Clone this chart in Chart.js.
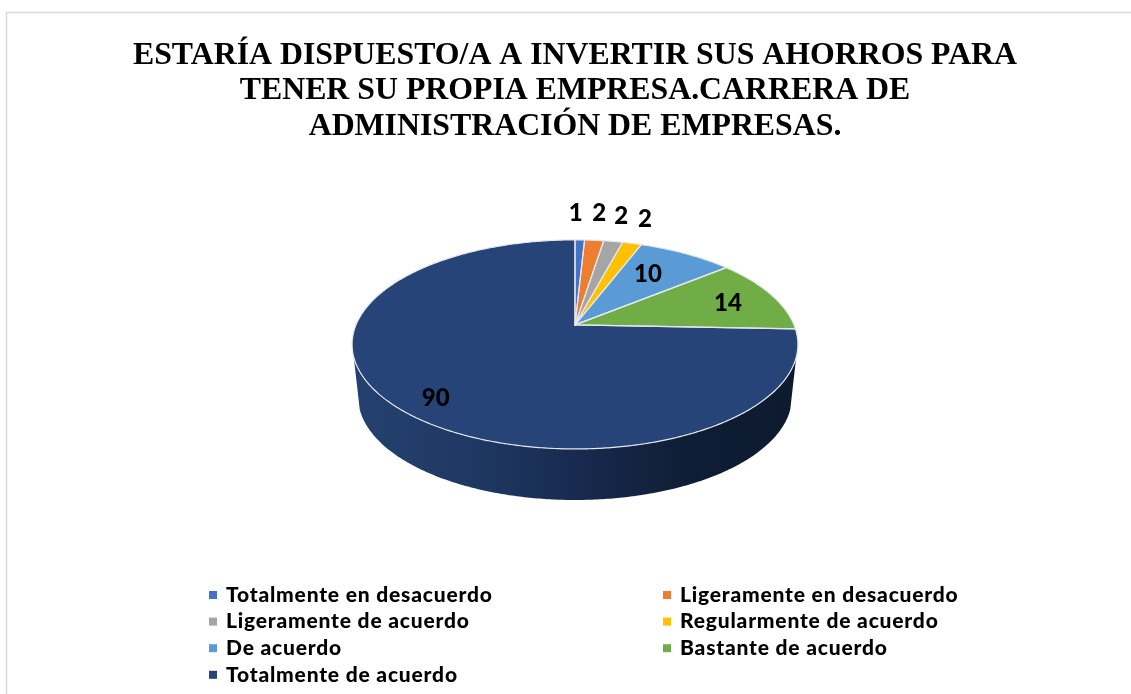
<!DOCTYPE html>
<html>
<head>
<meta charset="utf-8">
<style>
html,body{margin:0;padding:0;background:#fff;overflow:hidden;width:1131px;height:694px}
canvas{display:block}
</style>
<script src="https://cdn.jsdelivr.net/npm/chart.js@4"></script>
</head>
<body>
<canvas id="c" width="1150" height="694"></canvas>
<script>
const titleLines = [
  'ESTARÍA DISPUESTO/A A INVERTIR SUS AHORROS PARA',
  'TENER SU PROPIA EMPRESA.CARRERA DE',
  'ADMINISTRACIÓN DE EMPRESAS.'
];
const categories = [
  'Totalmente en desacuerdo','Ligeramente en desacuerdo','Ligeramente de acuerdo',
  'Regularmente de acuerdo','De acuerdo','Bastante de acuerdo','Totalmente de acuerdo'
];
const values = [1, 2, 2, 2, 10, 14, 90];
const colors = ['#4472C4','#ED7D31','#A5A5A5','#FFC000','#5B9BD5','#70AD47','#264478'];
const labelOffsets = [[-4,-27],[5,-27],[8,-25],[13,-24],[-38,21],[-43,9],[42,-7]];

const TILT = 0.4607, PERSP = -0.1866;

function project(el, a, f) {
  const u = Math.cos(a) * f, v = Math.sin(a) * f;
  const w = 1 + PERSP * v, r = el.outerRadius;
  return { x: el.x + r * u / w, y: el.y + r * TILT * v / w };
}
function lower(el, p) {
  return { x: el.x + (p.x - el.x) * 0.973, y: el.y + 72 + (p.y - el.y - 19.5) * 0.986 };
}
function rim(el) {
  const pts = [], n = Math.max(2, Math.ceil((el.endAngle - el.startAngle) / 0.01));
  for (let i = 0; i <= n; i++) {
    pts.push(project(el, el.startAngle + (el.endAngle - el.startAngle) * i / n, 1));
  }
  return pts;
}

const pie3d = {
  id: 'pie3d',
  beforeDraw(chart) {
    const c = chart.ctx;
    c.save();
    c.fillStyle = '#fff';
    c.fillRect(0, 0, chart.width, chart.height);
    c.strokeStyle = '#d9d9d9';
    c.lineWidth = 1.5;
    c.strokeRect(6.5, 12.5, chart.width + 20, chart.height + 20);
    c.restore();
  },
  beforeDatasetDraw(chart, args) {
    const c = chart.ctx, arcs = args.meta.data;
    c.save();
    const grad = c.createLinearGradient(352, 0, 798, 0);
    grad.addColorStop(0, '#24426f');
    grad.addColorStop(0.3, '#1e3761');
    grad.addColorStop(0.55, '#17274a');
    grad.addColorStop(0.75, '#0f1d35');
    grad.addColorStop(1, '#0d1a2e');
    arcs.forEach(el => {
      const front = rim(el).filter(p => p.y >= el.y + 32);
      if (front.length < 2) return;
      c.beginPath();
      front.forEach((p, i) => i ? c.lineTo(p.x, p.y) : c.moveTo(p.x, p.y));
      front.slice().reverse().forEach(p => { const q = lower(el, p); c.lineTo(q.x, q.y); });
      c.closePath();
      c.fillStyle = grad;
      c.fill();
    });
    arcs.forEach(el => {
      c.beginPath();
      c.moveTo(el.x, el.y);
      rim(el).forEach(p => c.lineTo(p.x, p.y));
      c.closePath();
      c.fillStyle = el.options.backgroundColor;
      c.fill();
    });
    arcs.forEach(el => {
      c.beginPath();
      c.moveTo(el.x, el.y);
      rim(el).forEach(p => c.lineTo(p.x, p.y));
      c.closePath();
      c.strokeStyle = el.options.borderColor;
      c.lineWidth = el.options.borderWidth;
      c.lineJoin = 'round';
      c.stroke();
    });
    c.restore();
    return false;
  },
  afterDraw(chart) {
    const c = chart.ctx, arcs = chart.getDatasetMeta(0).data;
    c.save();
    c.fillStyle = '#000';
    c.textAlign = 'center';
    c.textBaseline = 'middle';
    c.font = '900 24px Lato';
    arcs.forEach((el, i) => {
      const p = project(el, (el.startAngle + el.endAngle) / 2, 1);
      c.fillText(String(values[i]), p.x + labelOffsets[i][0], p.y + labelOffsets[i][1]);
    });
    c.textAlign = 'left';
    c.font = '900 21px Lato';
    c.letterSpacing = '0.8px';
    categories.forEach((name, i) => {
      const col = i % 2, row = Math.floor(i / 2);
      const x = col ? 663 : 209, y = 595 + row * 26.6;
      c.fillStyle = colors[i];
      c.fillRect(x, y - 4, 8, 8);
      c.fillStyle = '#000';
      c.fillText(name, x + 17, y);
    });
    c.restore();
  }
};

new Chart(document.getElementById('c'), {
  type: 'pie',
  data: {
    labels: categories,
    datasets: [{
      data: values,
      backgroundColor: colors,
      borderColor: '#e4e6ea',
      borderWidth: 1.2
    }]
  },
  options: {
    responsive: false,
    animation: false,
    radius: 219,
    layout: { padding: { bottom: 189.6 } },
    plugins: {
      legend: { display: false },
      tooltip: { enabled: false },
      title: {
        display: true,
        text: titleLines,
        color: '#000',
        font: { family: '"Liberation Serif"', size: 31.8, weight: 'bold', lineHeight: 1.105 },
        padding: { top: 38.5, bottom: 1.5 }
      }
    }
  },
  plugins: [pie3d]
});
</script>
</body>
</html>
